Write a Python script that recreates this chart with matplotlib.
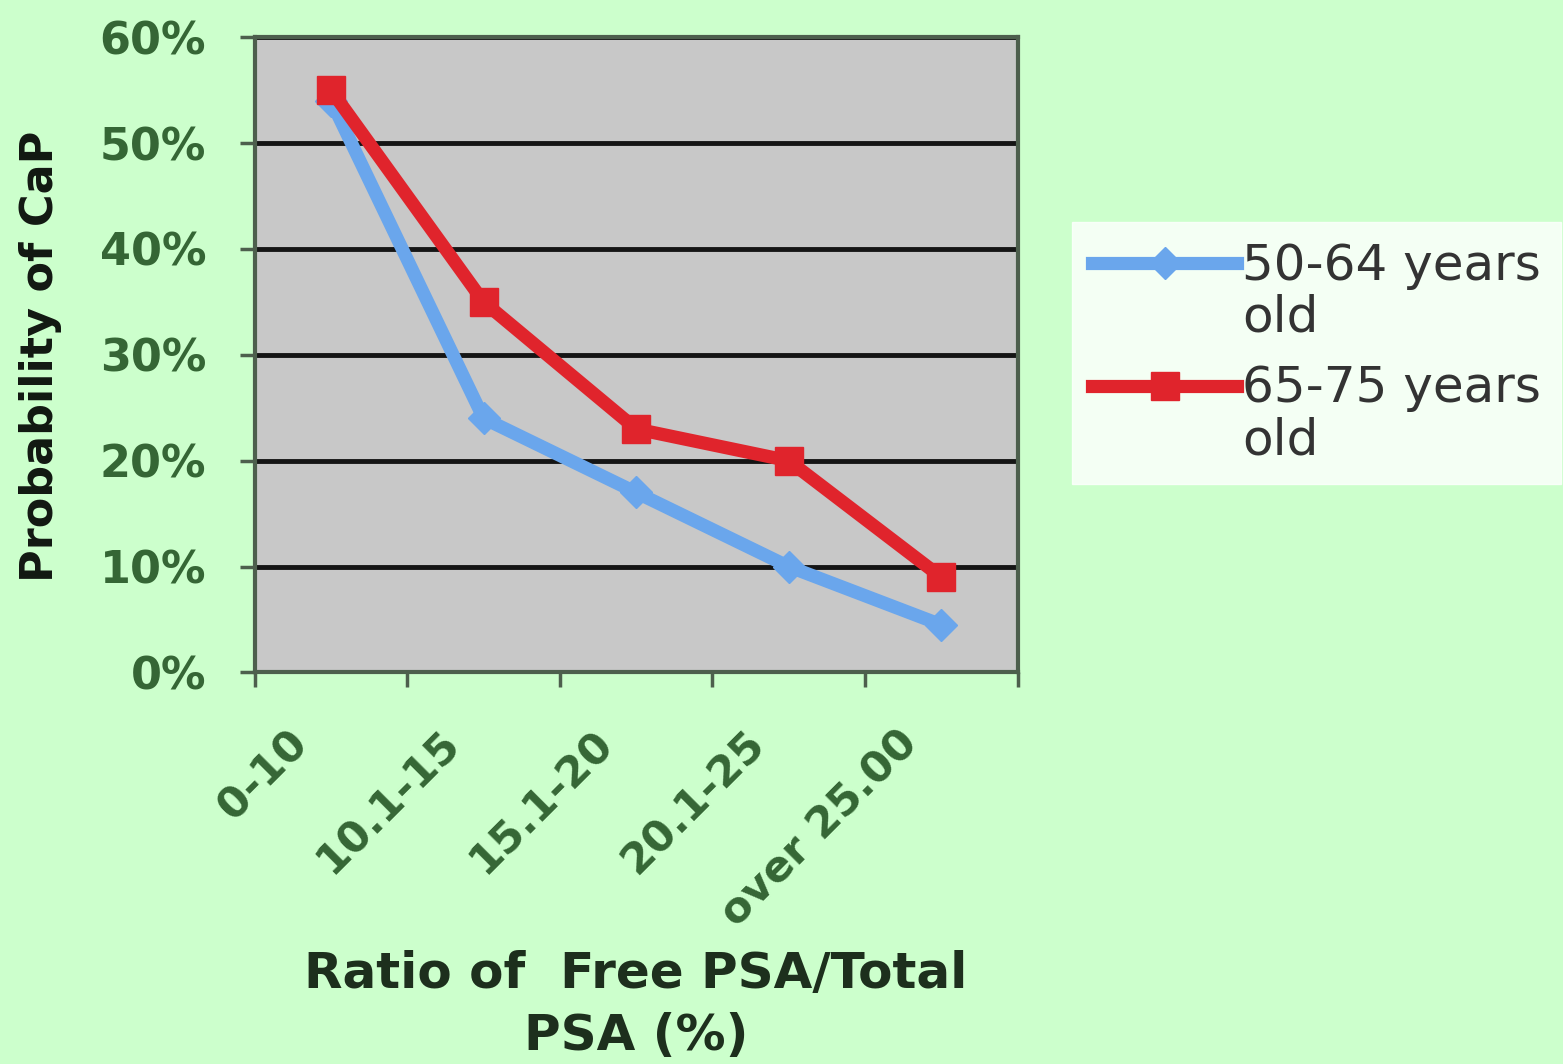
import numpy as np
import matplotlib.pyplot as plt
import matplotlib.transforms as mtransforms
from matplotlib.legend_handler import HandlerLine2D

# values
categories = ["0-10", "10.1-15", "15.1-20", "20.1-25", "over 25.00"]
age_50_64 = [0.54, 0.24, 0.17, 0.10, 0.045]
age_65_75 = [0.55, 0.35, 0.23, 0.20, 0.09]
series_names = ["50-64 years\nold", "65-75 years\nold"]
y_ticks = [0, 0.1, 0.2, 0.3, 0.4, 0.5, 0.6]

bg = '#ccffcc'
txt_green = '#356635'


class TopLineHandler(HandlerLine2D):
    # put the legend sample next to the first line of a two-line label
    def adjust_drawing_area(self, legend, orig_handle, xdescent, ydescent,
                            width, height, fontsize):
        xd, yd, w, h = super().adjust_drawing_area(
            legend, orig_handle, xdescent, ydescent, width, height, fontsize)
        return xd, yd - 1.2 * fontsize, w, h


fig = plt.figure(figsize=(15.63, 10.64), dpi=100)
fig.patch.set_facecolor(bg)
ax = fig.add_axes([0.163, 0.368, 0.488, 0.597])
ax.set_facecolor('#c8c8c8')

x = np.arange(len(categories))
ax.plot(x, age_50_64, '-D', color='#6aa6ec', lw=9.5, markersize=16,
        label=series_names[0], zorder=3)
ax.plot(x, age_65_75, '-s', color='#e0242c', lw=9.5, markersize=20,
        label=series_names[1], zorder=4)

ax.set_xlim(-0.5, len(categories) - 0.5)
ax.set_ylim(0, 0.6)
ax.set_yticks(y_ticks)
ax.set_yticklabels(["%d%%" % round(v * 100) for v in y_ticks])
ax.yaxis.grid(True, color='#151515', lw=3.5)
ax.set_axisbelow(True)

ax.set_xticks(x)
ax.set_xticks(np.arange(-0.5, len(categories)), minor=True)
ax.set_xticklabels(categories, rotation=45, ha='right', va='top',
                   rotation_mode='anchor', fontweight='bold')
ax.tick_params(axis='x', which='major', length=0, pad=36,
               labelsize=31, labelcolor=txt_green)
ax.tick_params(axis='x', which='minor', length=11, width=2.5,
               color='#4d5f4d', direction='out')
ax.tick_params(axis='y', length=11, width=2.5, color='#4d5f4d',
               pad=24, labelsize=32, labelcolor=txt_green)
for lab in ax.get_yticklabels():
    lab.set_fontweight('bold')

offset = mtransforms.ScaledTranslation(-45 / 100, 0, fig.dpi_scale_trans)
for lab in ax.get_xticklabels():
    lab.set_transform(lab.get_transform() + offset)

for s in ax.spines.values():
    s.set_color('#4d5f4d')
    s.set_linewidth(3)

ax.set_ylabel("Probability of CaP", fontsize=32, fontweight='bold', color='#111811')
ax.yaxis.set_label_coords(62 / 1563, 1 - 356 / 1064, transform=fig.transFigure)
ax.set_xlabel("Ratio of  Free PSA/Total\nPSA (%)", fontsize=36,
              fontweight='bold', color='#1d2f1d', linespacing=1.38)
ax.xaxis.set_label_coords(636 / 1563, 1 - 950 / 1064, transform=fig.transFigure)

leg = ax.legend(loc='upper left', bbox_to_anchor=(1072 / 1563, 1 - 222 / 1064),
                bbox_transform=fig.transFigure, borderaxespad=0, fontsize=36,
                frameon=True, fancybox=False, handlelength=2.9, handletextpad=0.1,
                labelspacing=0.45, borderpad=0.4,
                handler_map={plt.Line2D: TopLineHandler()})
leg.get_frame().set_facecolor('white')
leg.get_frame().set_edgecolor('white')
for t in leg.get_texts():
    t.set_color('#333333')
    t.set_linespacing(1.1)

plt.savefig("out.png", dpi=100, facecolor=bg)
